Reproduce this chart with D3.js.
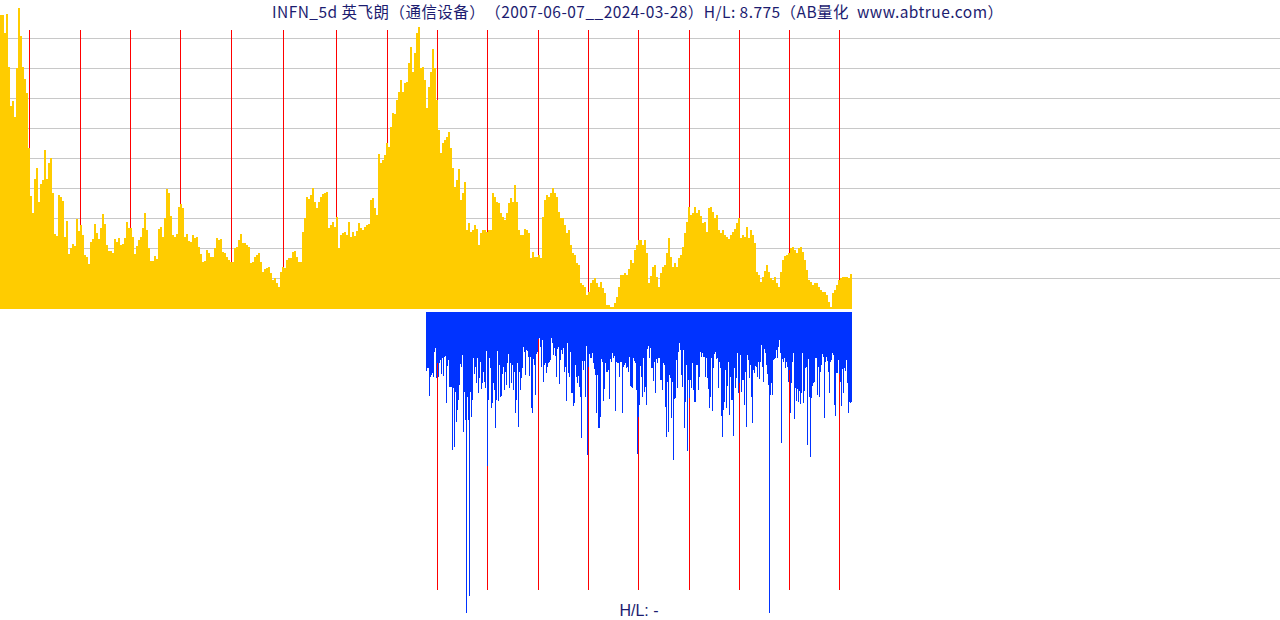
<!DOCTYPE html>
<html><head><meta charset="utf-8">
<script src="https://cdn.jsdelivr.net/npm/d3@7"></script>
<style>html,body{margin:0;padding:0;background:#fff;}svg{display:block;}
text{white-space:pre;text-spacing-trim:space-all;}</style>
</head><body>
<svg id="c" width="1280" height="620"></svg>
<script>
const titleText = "INFN_5d 英飞朗（通信设备）（2007-06-07__2024-03-28）H/L: 8.775（AB量化  www.abtrue.com）";
const bottomText = "H/L: -";
// year boundary positions (period index, 1 period per pixel column)
const yearMarks = [29,80,130,180,231,283,336,387,437,487,538,588,638,689,739,789,839];
const gridValues = [30,60,90,120,150,180,210,240,270];
// price series (relative height units), one value per 2 periods
const price1 = [293,293,275,294,241,202,207,191,240,300,272,241,229,215,160,112,95,129,140,106,124,128,158,129,145,150,115,74,72,113,111,107,71,87,54,60,64,62,89,77,83,73,53,51,44,66,69,84,75,69,80,94,84,63,57,57,55,69,66,70,63,64,70,86,80,80,71,54,62,68,71,80,95,78,60,47,47,52,49,79,81,71,90,119,115,92,73,71,74,101,104,100,71,74,67,66,73,70,71,61,54,46,47,58,55,51,51,60];
const price2 = [70,68,69,56,55,51,48,46,46,60,61,68,74,65,65,63,61,45,46,51,53,55,46,36,39,40,41,35,28,30,25,21,36,41,40,48,50,50,56,57,51,46,46,76,90,111,109,113,120,106,100,106,111,114,115,116,80,83,86,81,91,60,73,75,76,73,86,71,76,72,77,85,80,78,81,83,84,108,110,100,93,154,145,148,153,165,161,181,195,194,208,216,228,216,225,226,245,261,236,255,275,281,240,241,228,200];
const price3 = [221,236,259,240,208,178,155,165,168,171,176,160,140,121,128,139,108,115,126,78,85,76,78,83,79,63,75,78,78,76,78,78,115,111,106,105,95,91,88,95,105,110,106,123,106,78,73,73,79,78,75,50,56,51,51,53,50,91,108,113,111,115,120,115,111,96,90,90,83,75,78,63,55,53,45,43,25,23,21,13,16,25,28,30,25,21,26,20,15,3,3,1,1,5,11,21,33,33,35,33,39,48,45,58,63,68];
const price4 = [68,63,68,55,25,32,41,43,31,21,35,41,43,55,70,51,41,45,41,50,53,61,75,86,101,93,95,101,95,98,92,85,86,76,100,101,96,90,93,78,75,78,73,71,69,73,76,79,85,90,70,73,71,81,70,78,73,65,36,33,26,31,37,43,36,30,28,31,25,21,36,48,52,53,55,60,61,58,55,60,61,56,48,38,28,26,23,25,25,21,18,16,16,13,6,1,15,18,23,28,30,31,31,31,30,34];
// lower panel series, one value per period, starting at period 426
const lowerStart = 426;
const lower = [176,167,169,252,194,189,184,196,121,109,199,154,196,154,144,186,139,192,134,132,272,162,144,226,226,226,414,229,404,239,329,294,264,219,156,164,129,359,239,324,903,256,324,852,239,314,264,139,186,164,214,139,244,199,149,232,212,179,209,229,116,462,264,139,169,289,274,214,234,349,264,116,266,159,254,252,186,164,234,179,219,154,126,229,154,214,159,234,179,302,264,154,344,179,234,199,169,104,119,189,114,116,136,192,134,289,304,142,159,249,126,119,82,79,104,164,84,209,159,152,184,164,152,149,144,79,94,129,109,132,196,112,104,216,144,114,126,109,179,164,266,94,184,196,119,244,242,282,272,159,194,212,192,226,254,377,146,174,147,254,102,429,164,126,139,139,124,154,171,189,304,189,347,347,316,142,149,266,232,152,179,179,174,262,142,149,122,139,132,296,149,154,152,194,149,149,302,164,159,152,167,164,179,136,222,226,229,139,146,152,234,426,314,279,162,194,254,139,239,226,279,112,102,139,109,167,169,206,149,242,142,154,139,139,204,204,234,154,159,284,374,209,359,189,197,319,209,444,262,259,144,229,119,94,114,189,224,114,349,269,159,417,204,259,204,229,152,234,269,269,159,159,234,194,119,134,124,136,134,196,139,199,232,289,254,139,296,169,126,119,142,139,229,149,169,312,374,294,269,174,289,222,149,309,194,264,264,372,169,229,199,122,244,212,129,239,204,204,279,179,344,129,144,199,159,254,332,174,184,162,164,196,149,202,149,99,164,209,112,124,159,186,219,903,249,214,249,144,142,139,114,139,106,84,122,392,142,149,139,169,149,164,209,174,304,214,149,124,322,229,266,232,269,236,276,244,122,274,236,169,164,399,142,254,435,259,222,214,209,139,139,249,166,256,179,159,126,136,319,149,134,146,179,244,149,144,122,129,279,312,182,182,144,186,209,282,172,244,169,176,144,214,304,269,274,269];

const price = price1.concat(price2, price3, price4);

const svg = d3.select("#c");
const x = d3.scaleLinear().domain([0, 852]).range([0, 852]);
const y = d3.scaleLinear().domain([0, 300]).range([308, 8]);
const yLow = d3.scaleLinear().domain([0, 900]).range([312, 612]);

// grid
svg.append("g").selectAll("line").data(gridValues).join("line")
  .attr("x1", 0).attr("x2", 1280)
  .attr("y1", d => Math.round(y(d)) + 0.5).attr("y2", d => Math.round(y(d)) + 0.5)
  .attr("stroke", "#c8c8c8").attr("stroke-width", 1);

// year lines upper
svg.append("g").selectAll("line").data(yearMarks).join("line")
  .attr("x1", d => x(d) + 0.5).attr("x2", d => x(d) + 0.5)
  .attr("y1", 30).attr("y2", 308)
  .attr("stroke", "#ff0000").attr("stroke-width", 1);

// year lines lower
svg.append("g").selectAll("line").data(yearMarks.filter(d => d >= lowerStart)).join("line")
  .attr("x1", d => x(d) + 0.5).attr("x2", d => x(d) + 0.5)
  .attr("y1", 312).attr("y2", 590)
  .attr("stroke", "#ff0000").attr("stroke-width", 1);

// yellow bars
svg.append("g").attr("shape-rendering", "crispEdges").selectAll("rect").data(price).join("rect")
  .attr("x", (d, i) => x(i * 2)).attr("width", x(2) - x(0))
  .attr("y", d => y(d)).attr("height", d => y(0) + 1 - y(d))
  .attr("fill", "#ffcc00");

// blue bars
svg.append("g").attr("shape-rendering", "crispEdges").selectAll("rect").data(lower).join("rect")
  .attr("x", (d, i) => x(lowerStart + i)).attr("width", x(1) - x(0))
  .attr("y", yLow(0)).attr("height", d => yLow(d) - yLow(0))
  .attr("fill", "#0033ff");

// texts
svg.append("text").attr("x", 637.5).attr("y", 17.5).attr("text-anchor", "middle")
  .attr("font-family", "'Noto Sans CJK SC', 'Noto Sans', sans-serif").attr("font-size", 15.5)
  .attr("textLength", 731).attr("lengthAdjust", "spacing")
  .attr("fill", "#1c1c70").text(titleText);
svg.append("text").attr("x", 639).attr("y", 616).attr("text-anchor", "middle")
  .attr("font-family", "'Liberation Sans', Arial, sans-serif").attr("font-size", 16)
  .attr("fill", "#1c1c70").text(bottomText);
</script>
</body></html>
